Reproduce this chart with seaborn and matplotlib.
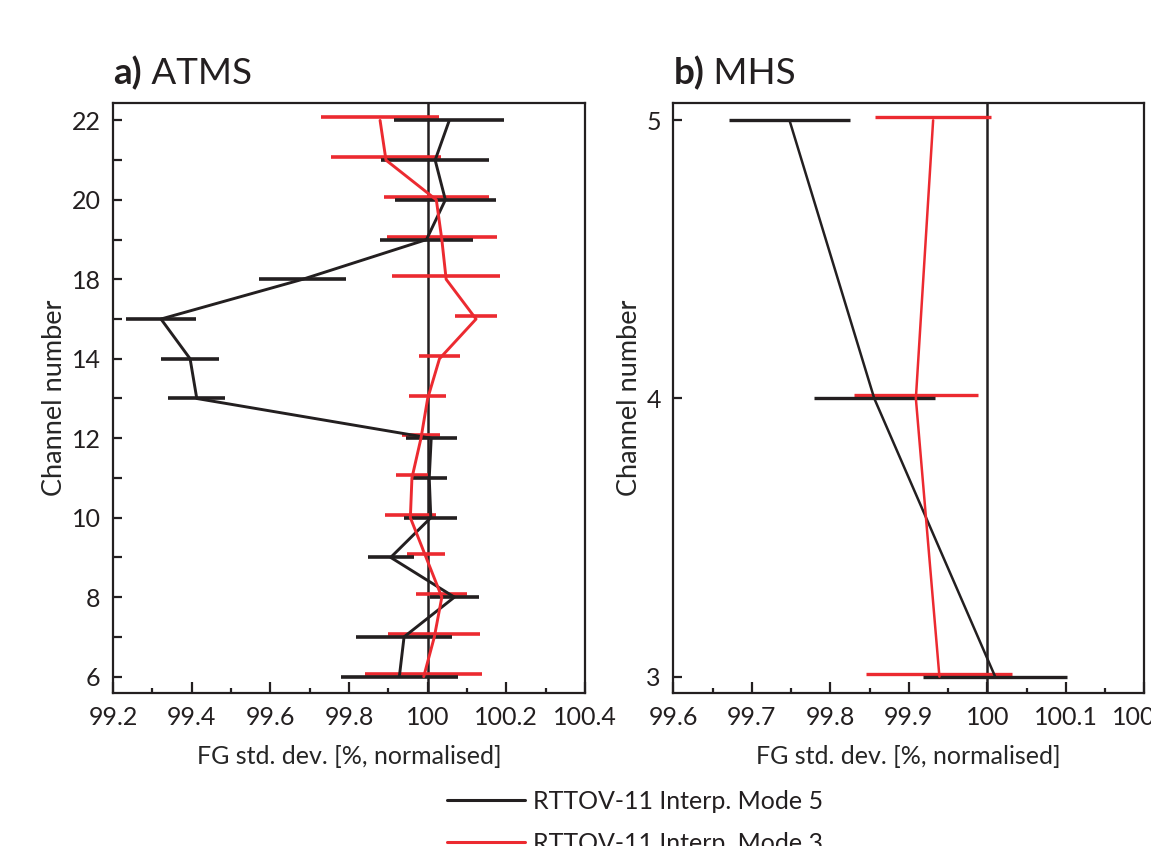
import matplotlib
matplotlib.use("Agg")
import matplotlib.pyplot as plt
from matplotlib.ticker import MultipleLocator
from matplotlib.lines import Line2D
import seaborn as sns

# ATMS channels (16 and 17 are not shown) and normalised FG std. dev.
atms_channels = [6, 7, 8, 9, 10, 11, 12, 13, 14, 15, 18, 19, 20, 21, 22]
atms_mode5 = [99.928, 99.940, 100.068, 99.906, 100.008, 100.004, 100.009,
              99.413, 99.396, 99.322, 99.682, 99.997, 100.045, 100.019, 100.055]
atms_mode5_err = [0.149, 0.121, 0.063, 0.058, 0.067, 0.045, 0.065,
                  0.072, 0.074, 0.089, 0.110, 0.117, 0.128, 0.138, 0.140]
atms_mode3 = [99.990, 100.017, 100.036, 99.996, 99.956, 99.960, 99.983,
              100.000, 100.030, 100.123, 100.047, 100.036, 100.022, 99.894, 99.879]
atms_mode3_err = [0.149, 0.117, 0.065, 0.049, 0.065, 0.040, 0.049,
                  0.047, 0.052, 0.054, 0.138, 0.140, 0.134, 0.140, 0.151]

# MHS
mhs_channels = [3, 4, 5]
mhs_mode5 = [100.010, 99.856, 99.748]
mhs_mode5_err = [0.092, 0.077, 0.077]
mhs_mode3 = [99.939, 99.909, 99.931]
mhs_mode3_err = [0.093, 0.079, 0.074]

atms_xticks = [99.2, 99.4, 99.6, 99.8, 100.0, 100.2, 100.4]
atms_xlabels = ["99.2", "99.4", "99.6", "99.8", "100", "100.2", "100.4"]
mhs_xticks = [99.6, 99.7, 99.8, 99.9, 100.0, 100.1, 100.2]
mhs_xlabels = ["99.6", "99.7", "99.8", "99.9", "100", "100.1", "100.2"]

legend_labels = ["RTTOV-11 Interp. Mode 5", "RTTOV-11 Interp. Mode 3"]

BLACK = "#231f20"
RED = "#ec2a30"

sns.set_theme(style="ticks")
plt.rcParams["font.family"] = ["Lato", "DejaVu Sans"]
plt.rcParams["axes.linewidth"] = 1.6
plt.rcParams["axes.edgecolor"] = BLACK
plt.rcParams["text.color"] = BLACK

fig = plt.figure(figsize=(11.51, 8.46), dpi=100)
ax1 = fig.add_axes([113 / 1151, 1 - 693.3 / 846, 472 / 1151, 590 / 846])
ax2 = fig.add_axes([673.3 / 1151, 1 - 693.3 / 846, 471 / 1151, 590 / 846])


def draw_panel(ax, ypos, m5, e5, m3, e3, lw_line, lw_bar, red_off):
    ax.axvline(100.0, color=BLACK, lw=1.8, zorder=1)
    sns.lineplot(x=m5, y=ypos, orient="y", color=BLACK, lw=lw_line,
                 errorbar=None, ax=ax, zorder=3)
    sns.lineplot(x=m3, y=ypos, orient="y", color=RED, lw=lw_line,
                 errorbar=None, ax=ax, zorder=3)
    ax.errorbar(m3, [y + red_off for y in ypos], xerr=e3, fmt="none",
                ecolor=RED, elinewidth=lw_bar, capsize=0, zorder=2)
    ax.errorbar(m5, ypos, xerr=e5, fmt="none",
                ecolor=BLACK, elinewidth=lw_bar, capsize=0, zorder=2)


atms_pos = list(range(len(atms_channels)))
draw_panel(ax1, atms_pos, atms_mode5, atms_mode5_err, atms_mode3, atms_mode3_err,
           2.1, 2.6, 0.075)
draw_panel(ax2, mhs_channels, mhs_mode5, mhs_mode5_err, mhs_mode3, mhs_mode3_err,
           1.8, 2.4, 0.011)

ax1.set_xlim(99.2, 100.4)
ax1.set_ylim(-0.42, 14.43)
ax1.set_yticks(atms_pos)
ax1.set_yticklabels([str(c) if i % 2 == 0 else "" for i, c in enumerate(atms_channels)])
ax1.set_xticks(atms_xticks)
ax1.set_xticklabels(atms_xlabels)
ax1.xaxis.set_minor_locator(MultipleLocator(0.1))

ax2.set_xlim(99.6, 100.2)
ax2.set_ylim(2.94, 5.061)
ax2.set_yticks(mhs_channels)
ax2.set_yticklabels([str(c) for c in mhs_channels])
ax2.set_xticks(mhs_xticks)
ax2.set_xticklabels(mhs_xlabels)
ax2.xaxis.set_minor_locator(MultipleLocator(0.05))

for ax, letter, name in [(ax1, "a)", "ATMS"), (ax2, "b)", "MHS")]:
    for side in ["top", "right", "left", "bottom"]:
        ax.spines[side].set_visible(True)
        ax.spines[side].set_linewidth(1.6)
    ax.tick_params(axis="both", which="both", direction="in", colors=BLACK,
                   labelsize=18, width=1.6, pad=9)
    ax.tick_params(axis="x", which="major", length=8)
    ax.tick_params(axis="x", which="minor", length=3.5)
    ax.tick_params(axis="y", which="major", length=6.5)
    ax.tick_params(axis="y", which="minor", length=0)
    ax.set_xlabel("FG std. dev. [%, normalised]", fontsize=18, labelpad=11.5)
    ax.set_ylabel("Channel number", fontsize=19.5, labelpad=3)
    t = ax.text(0.0, 1.032, letter, transform=ax.transAxes, fontsize=26.5,
                fontweight="bold", va="baseline", ha="left")
    ax.annotate(" " + name, xy=(1, 0), xycoords=t, fontsize=26.5,
                va="bottom", ha="left")

handles = [Line2D([], [], color=BLACK, lw=2.2), Line2D([], [], color=RED, lw=2.2)]
fig.legend(handles, legend_labels, loc="upper left",
           bbox_to_anchor=(447 / 1151, 1 - 790 / 846), frameon=False,
           fontsize=18, handlelength=3.1, handletextpad=0.35,
           labelspacing=0.76, borderpad=0, borderaxespad=0)

fig.savefig("out.png", dpi=100)
